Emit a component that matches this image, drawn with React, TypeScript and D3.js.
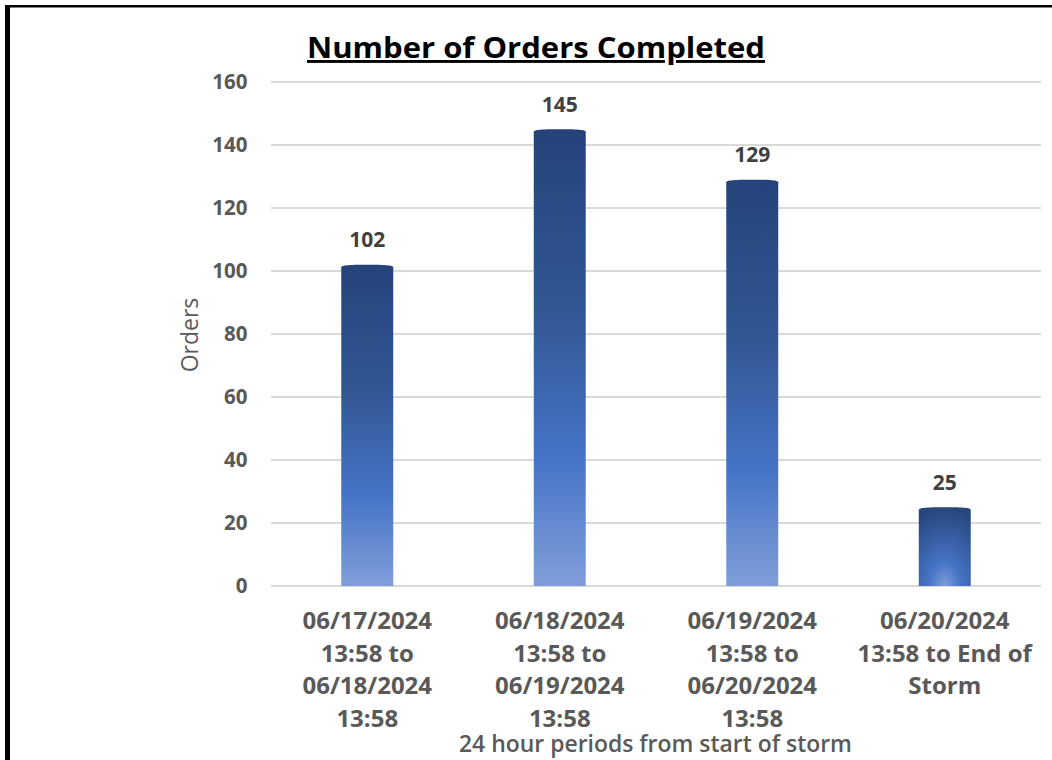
import React from "react";
import * as d3 from "d3";

const title = "Number of Orders Completed";
const categories = [
  "06/17/2024 13:58 to 06/18/2024 13:58",
  "06/18/2024 13:58 to 06/19/2024 13:58",
  "06/19/2024 13:58 to 06/20/2024 13:58",
  "06/20/2024 13:58 to End of Storm",
];
const categoryLines = [
  ["06/17/2024", "13:58 to", "06/18/2024", "13:58"],
  ["06/18/2024", "13:58 to", "06/19/2024", "13:58"],
  ["06/19/2024", "13:58 to", "06/20/2024", "13:58"],
  ["06/20/2024", "13:58 to End of", "Storm"],
];
const orders = [102, 145, 129, 25];
const yTicks = [0, 20, 40, 60, 80, 100, 120, 140, 160];
const yTitle = "Orders";
const xTitle = "24 hour periods from start of storm";

const W = 1052;
const H = 760;
const plot = { left: 271, right: 1041, top: 82, bottom: 586 };
const FONT = "'Open Sans', 'Noto Sans', sans-serif";

export default function App() {
  const x = d3
    .scaleBand<string>()
    .domain(categories)
    .range([plot.left, plot.right])
    .paddingInner(0.73)
    .paddingOuter(0.365);
  const y = d3.scaleLinear().domain([0, 160]).range([plot.bottom, plot.top]);

  const barPath = (x0: number, x1: number, yt: number, yb: number) => {
    const h = 2.5;
    return `M${x0},${yb} L${x0},${yt + h} C${x0 + 1},${yt + 0.6} ${x0 + 6},${yt} ${(x0 + x1) / 2},${yt} C${x1 - 6},${yt} ${x1 - 1},${yt + 0.6} ${x1},${yt + h} L${x1},${yb} Z`;
  };

  return (
    <div style={{ position: "absolute", left: 0, top: 0, width: W, height: H, background: "#fff" }}>
      <svg width={W} height={H} style={{ display: "block" }}>
        <defs>
          <linearGradient id="barGrad" x1="0" y1="0" x2="0" y2="1">
            <stop offset="0" stopColor="#25437A" />
            <stop offset="0.4" stopColor="#325795" />
            <stop offset="0.72" stopColor="#4674C6" />
            <stop offset="1" stopColor="#809EDA" />
          </linearGradient>
          <radialGradient id="barRad" cx="0.5" cy="1" r="1" fx="0.5" fy="1">
            <stop offset="0" stopColor="#7F9DD9" />
            <stop offset="0.3" stopColor="#4774C6" />
            <stop offset="1" stopColor="#27467C" />
          </radialGradient>
        </defs>

        {/* frame */}
        <rect x={5} y={5} width={W - 5} height={2.5} fill="#000" />
        <rect x={5} y={5} width={5} height={H - 5} fill="#000" />

        {/* title */}
        <text
          x={307}
          y={58}
          fontFamily={FONT}
          fontWeight={700}
          fontSize={29}
          fill="#000"
          textDecoration="underline"
          textLength={458}
          lengthAdjust="spacingAndGlyphs"
        >
          {title}
        </text>

        {/* gridlines */}
        {yTicks.map((t) => (
          <line
            key={t}
            x1={plot.left}
            x2={plot.right}
            y1={y(t)}
            y2={y(t)}
            stroke="#D9D9D9"
            strokeWidth={2}
          />
        ))}

        {/* y tick labels */}
        {yTicks.map((t) => (
          <text
            key={"t" + t}
            x={247.5}
            y={y(t) + 7.3}
            textAnchor="end"
            fontFamily={FONT}
            fontWeight={700}
            fontSize={20.5}
            fill="#595959"
          >
            {t}
          </text>
        ))}

        {/* bars */}
        {categories.map((c, i) => {
          const x0 = x(c)!;
          const x1 = x0 + x.bandwidth();
          return (
            <path
              key={c}
              d={barPath(x0, x1, y(orders[i]), y(0))}
              fill={i === categories.length - 1 ? "url(#barRad)" : "url(#barGrad)"}
            />
          );
        })}

        {/* value labels */}
        {categories.map((c, i) => (
          <text
            key={"v" + c}
            x={x(c)! + x.bandwidth() / 2}
            y={y(orders[i]) - 17.5}
            textAnchor="middle"
            fontFamily={FONT}
            fontWeight={700}
            fontSize={21}
            fill="#404040"
          >
            {orders[i]}
          </text>
        ))}

        {/* category labels */}
        {categories.map((c, i) => (
          <text
            key={"c" + c}
            textAnchor="middle"
            fontFamily={FONT}
            fontWeight={700}
            fontSize={24}
            fill="#595959"
          >
            {categoryLines[i].map((ln, j) => (
              <tspan key={j} x={x(c)! + x.bandwidth() / 2} y={629.3 + j * 32.5}>
                {ln}
              </tspan>
            ))}
          </text>
        ))}

        {/* axis titles */}
        <text
          transform={`translate(198,335) rotate(-90)`}
          textAnchor="middle"
          fontFamily={FONT}
          fontSize={23}
          fill="#595959"
        >
          {yTitle}
        </text>
        <text
          x={459}
          y={752}
          fontFamily={FONT}
          fontWeight={600}
          fontSize={23}
          fill="#595959"
          textLength={393}
          lengthAdjust="spacingAndGlyphs"
        >
          {xTitle}
        </text>
      </svg>
    </div>
  );
}
